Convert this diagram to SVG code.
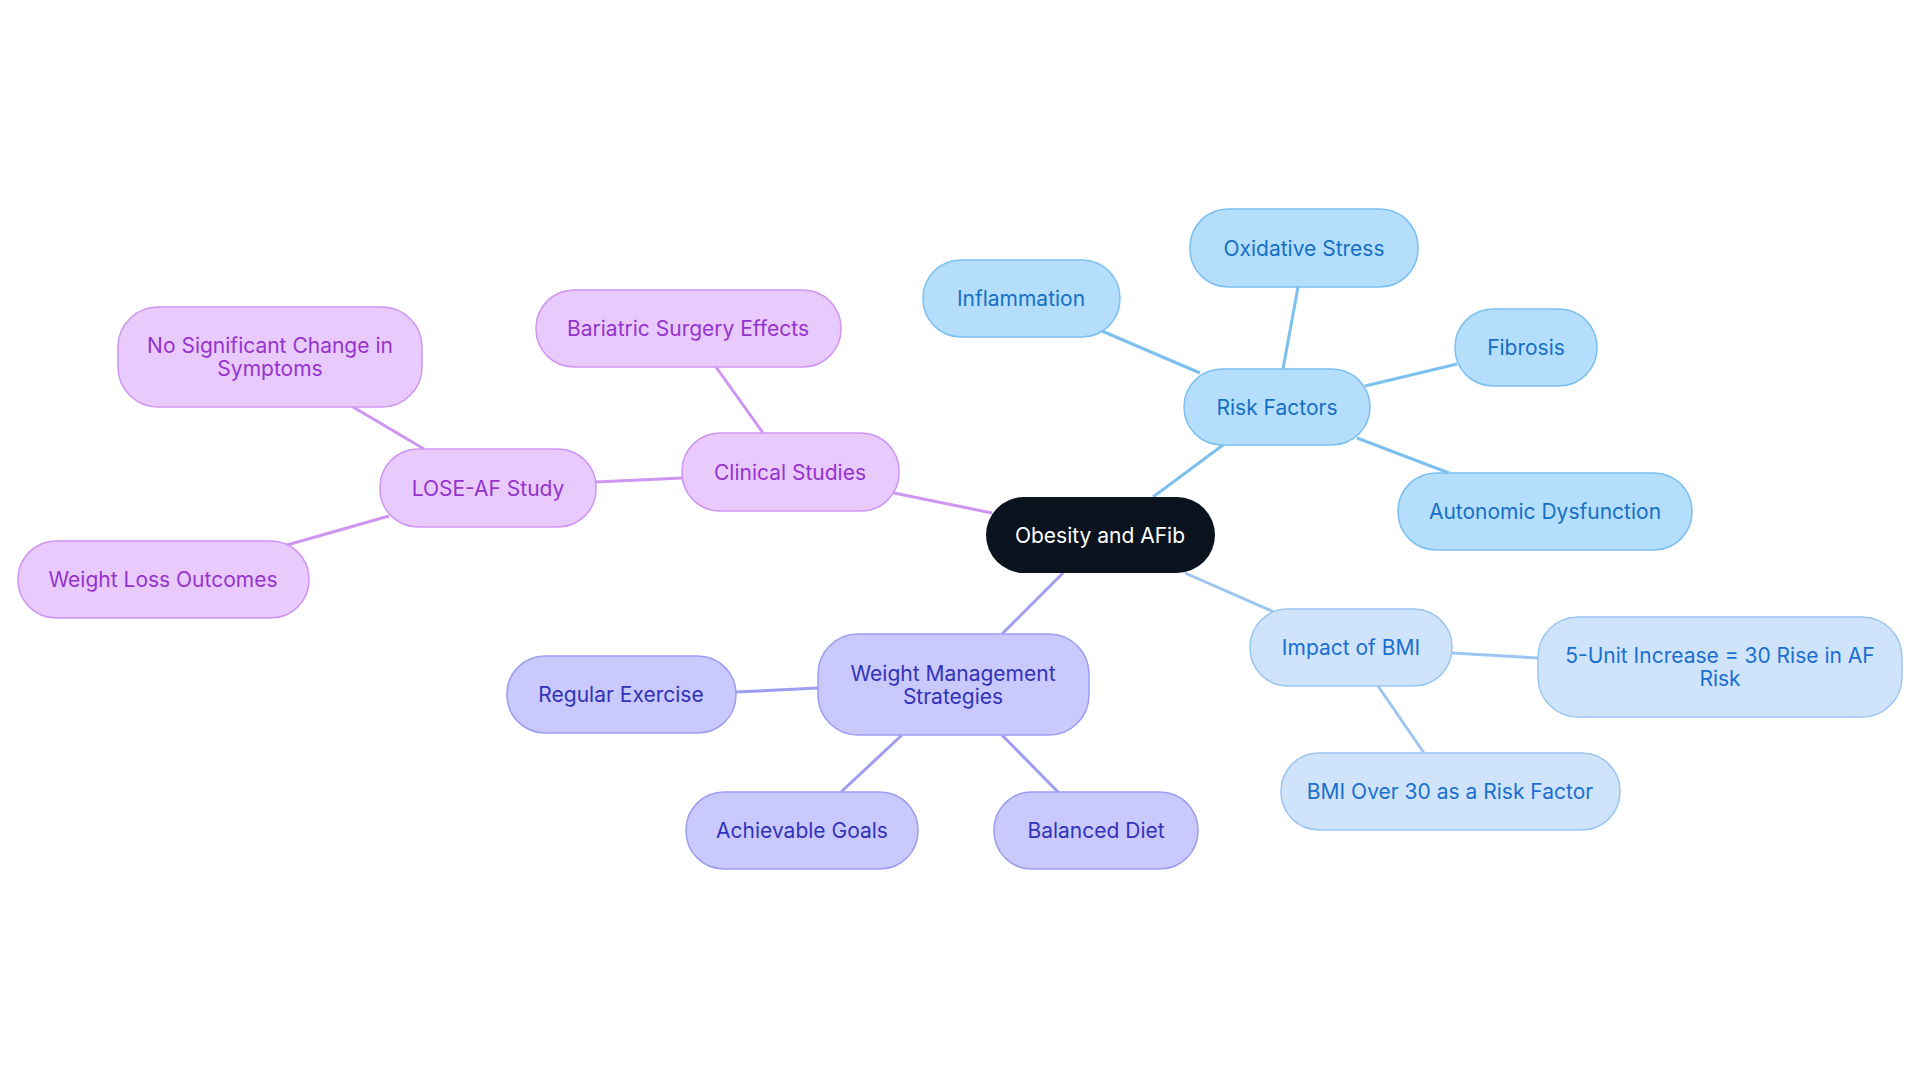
<svg xmlns="http://www.w3.org/2000/svg" width="1920" height="1083" viewBox="0 0 1920 1083">
<style>
text{font-family:Inter,"Noto Sans",sans-serif;font-size:21px;text-anchor:middle;dominant-baseline:central}
.c line{stroke-width:3}
.rf rect{fill:#b5defd;stroke:#7cc0f0;stroke-width:1.5}.rf text{fill:#1570c4}
.bm rect{fill:#cfe3fb;stroke:#9cc6f2;stroke-width:1.5}.bm text{fill:#1a6fd0}
.wm rect{fill:#c9c9fd;stroke:#9d9df2;stroke-width:1.5}.wm text{fill:#3232b8}
.cs rect{fill:#e9cafc;stroke:#cf95f2;stroke-width:1.5}.cs text{fill:#9533cf}
</style>
<rect width="1920" height="1083" fill="#fff"/>
<g class="c">
<g stroke="#7cc0f0"><line x1="1153" y1="497" x2="1223" y2="445"/><line x1="1200" y1="373" x2="1102" y2="331"/><line x1="1283" y1="369" x2="1298" y2="287"/><line x1="1365" y1="386" x2="1457" y2="364"/><line x1="1357" y1="438" x2="1449" y2="473"/></g>
<g stroke="#9cc6f2"><line x1="1185" y1="573" x2="1274" y2="612"/><line x1="1452" y1="653" x2="1539" y2="658"/><line x1="1378" y1="686" x2="1424" y2="753"/></g>
<g stroke="#9d9df2"><line x1="1063" y1="573" x2="1002" y2="634"/><line x1="818" y1="688" x2="736" y2="692"/><line x1="902" y1="735" x2="841" y2="792"/><line x1="1002" y1="735" x2="1058" y2="792"/></g>
<g stroke="#cf95f2"><line x1="992" y1="513" x2="894" y2="493"/><line x1="763" y1="433" x2="716" y2="367"/><line x1="682" y1="478" x2="596" y2="482"/><line x1="424" y1="449" x2="353" y2="407"/><line x1="389" y1="516" x2="287" y2="545"/></g>
</g>
<g id="center"><rect x="986" y="497" width="229" height="76" rx="38" fill="#0b131e"/><text x="1100" y="535" fill="#fff">Obesity and AFib</text></g>
<g id="risk" class="rf"><rect x="1184" y="369" width="186" height="76" rx="38"/><text x="1277" y="407">Risk Factors</text></g>
<g id="infl" class="rf"><rect x="923" y="260" width="197" height="77" rx="38"/><text x="1021" y="298">Inflammation</text></g>
<g id="oxid" class="rf"><rect x="1190" y="209" width="228" height="78" rx="38"/><text x="1304" y="248">Oxidative Stress</text></g>
<g id="fib" class="rf"><rect x="1455" y="309" width="142" height="77" rx="38"/><text x="1526" y="347">Fibrosis</text></g>
<g id="auto" class="rf"><rect x="1398" y="473" width="294" height="77" rx="38"/><text x="1545" y="511">Autonomic Dysfunction</text></g>
<g id="bmi" class="bm"><rect x="1250" y="609" width="202" height="77" rx="38"/><text x="1351" y="647">Impact of BMI</text></g>
<g id="unit" class="bm"><rect x="1538" y="617" width="364" height="100" rx="40"/><text x="1720" y="655">5-Unit Increase = 30 Rise in AF</text><text x="1720" y="678">Risk</text></g>
<g id="bmi30" class="bm"><rect x="1281" y="753" width="339" height="77" rx="38"/><text x="1450" y="791">BMI Over 30 as a Risk Factor</text></g>
<g id="wms" class="wm"><rect x="818" y="634" width="271" height="101" rx="40"/><text x="953" y="673">Weight Management</text><text x="953" y="696">Strategies</text></g>
<g id="ex" class="wm"><rect x="507" y="656" width="229" height="77" rx="38"/><text x="621" y="694">Regular Exercise</text></g>
<g id="goals" class="wm"><rect x="686" y="792" width="232" height="77" rx="38"/><text x="802" y="830">Achievable Goals</text></g>
<g id="diet" class="wm"><rect x="994" y="792" width="204" height="77" rx="38"/><text x="1096" y="830">Balanced Diet</text></g>
<g id="clin" class="cs"><rect x="682" y="433" width="217" height="78" rx="38"/><text x="790" y="472">Clinical Studies</text></g>
<g id="bari" class="cs"><rect x="536" y="290" width="305" height="77" rx="38"/><text x="688" y="328">Bariatric Surgery Effects</text></g>
<g id="lose" class="cs"><rect x="380" y="449" width="216" height="78" rx="38"/><text x="488" y="488">LOSE-AF Study</text></g>
<g id="nosig" class="cs"><rect x="118" y="307" width="304" height="100" rx="40"/><text x="270" y="345">No Significant Change in</text><text x="270" y="368">Symptoms</text></g>
<g id="wlo" class="cs"><rect x="18" y="541" width="291" height="77" rx="38"/><text x="163" y="579">Weight Loss Outcomes</text></g>
</svg>
